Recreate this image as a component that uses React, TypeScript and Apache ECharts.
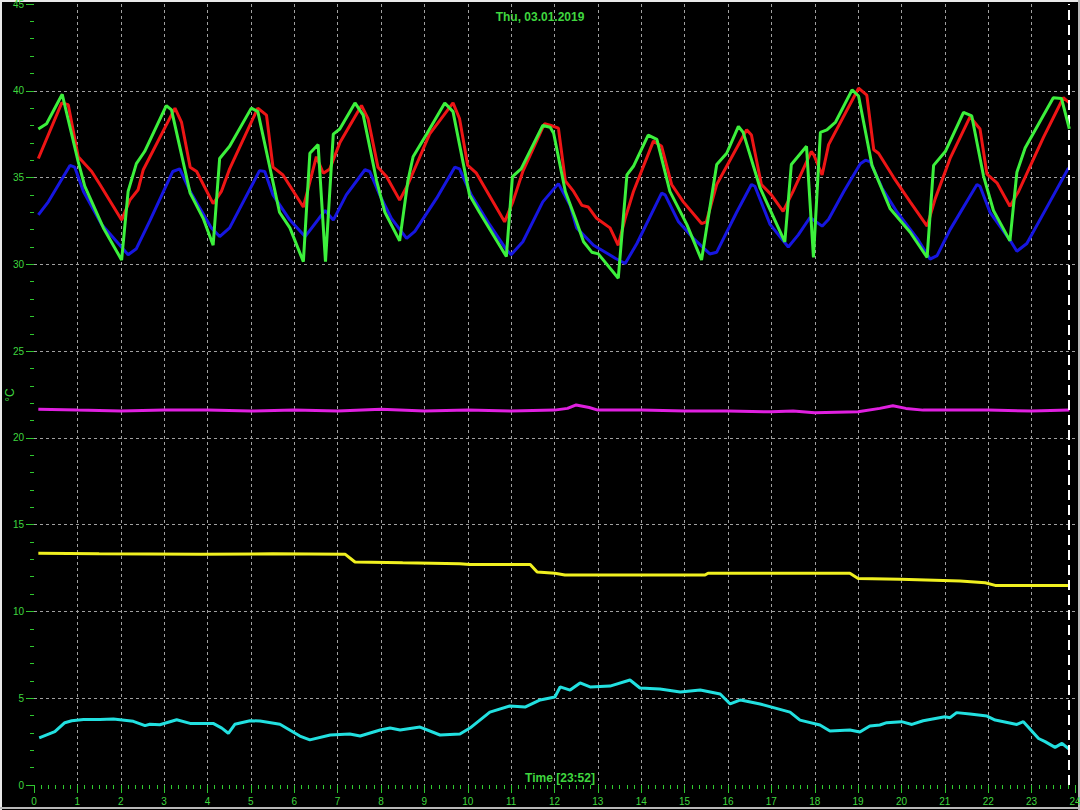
import React, { useEffect, useRef } from "react";
import * as echarts from "echarts";

// ---- Data (hour of day, °C) ----
const titleText = "Thu, 03.01.2019";
const timeLabel = "Time [23:52]";
const axisUnit = "°C";
const nowHour = 23.86;

const xMin = 0;
const xMax = 24;
const yMin = 0;
const yMax = 45;

const redTemp = [
  [0.1, 36.1], [0.64, 39.3], [0.79, 39.2], [1.02, 36.2], [1.33, 35.35], [1.52, 34.6], [2.02, 32.55], [2.21, 33.7],
  [2.4, 34.3], [2.52, 35.45], [3.25, 39.0], [3.4, 38.2], [3.6, 35.6], [3.75, 35.35], [4.13, 33.5], [4.32, 34.2],
  [4.51, 35.5], [5.16, 39.0], [5.36, 38.6], [5.51, 35.6], [5.74, 35.15], [6.21, 33.3], [6.51, 36.2], [6.67, 35.25],
  [6.82, 35.5], [7.05, 37.0], [7.55, 39.15], [7.7, 38.4], [7.93, 35.6], [8.13, 35.05], [8.43, 33.7], [8.62, 34.6],
  [9.12, 37.5], [9.66, 39.3], [9.81, 38.4], [10.0, 35.7], [10.2, 35.25], [10.85, 32.45], [11.04, 33.6], [11.27, 35.35],
  [11.77, 38.1], [11.92, 38.0], [12.09, 37.85], [12.25, 34.8], [12.44, 34.2], [12.63, 33.4], [12.78, 33.3], [12.97, 32.65],
  [13.28, 32.1], [13.47, 31.1], [13.63, 32.65], [13.82, 34.2], [14.28, 37.1], [14.47, 36.8], [14.7, 34.6], [14.97, 33.6],
  [15.39, 32.35], [15.5, 32.45], [15.74, 34.6], [16.43, 37.75], [16.54, 37.45], [16.77, 34.6], [17.0, 34.0], [17.27, 33.05],
  [17.5, 34.2], [17.92, 36.5], [17.98, 36.3], [18.17, 35.15], [18.32, 36.9], [19.01, 40.15], [19.2, 39.75], [19.36, 36.6],
  [19.47, 36.4], [19.82, 35.0], [20.2, 33.6], [20.59, 32.2], [20.78, 33.8], [21.12, 36.1], [21.58, 38.5], [21.81, 37.8],
  [21.97, 35.2], [22.2, 34.7], [22.5, 33.35], [22.7, 34.2], [23.27, 37.3], [23.73, 39.6], [23.87, 39.3],
];

const greenTemp = [
  [0.1, 37.8], [0.29, 38.1], [0.65, 39.8], [1.02, 35.9], [1.17, 34.5], [1.6, 32.1], [2.02, 30.25], [2.17, 34.2],
  [2.36, 35.8], [2.55, 36.5], [3.05, 39.15], [3.17, 38.9], [3.6, 34.1], [3.9, 32.65], [4.13, 31.1], [4.28, 36.1],
  [4.51, 36.8], [5.01, 39.0], [5.16, 38.8], [5.66, 33.0], [5.9, 32.1], [6.21, 30.15], [6.36, 36.4], [6.55, 36.9],
  [6.72, 30.15], [6.9, 37.5], [7.05, 37.8], [7.4, 39.3], [7.59, 38.6], [7.9, 34.8], [8.09, 33.0], [8.43, 31.35],
  [8.62, 34.8], [8.74, 36.2], [9.05, 37.5], [9.47, 39.3], [9.66, 38.8], [10.04, 34.0], [10.27, 33.0], [10.89, 30.45],
  [11.03, 35.05], [11.23, 35.5], [11.73, 38.0], [11.9, 37.9], [11.98, 37.55], [12.25, 34.2], [12.48, 32.65], [12.67, 31.3],
  [12.86, 30.7], [13.01, 30.6], [13.47, 29.2], [13.67, 35.15], [13.82, 35.65], [14.16, 37.45], [14.36, 37.2], [14.66, 34.2],
  [15.05, 32.3], [15.39, 30.25], [15.74, 35.75], [15.97, 36.4], [16.24, 37.95], [16.35, 37.6], [16.74, 34.4], [17.31, 31.3],
  [17.46, 35.75], [17.81, 36.8], [17.97, 30.4], [18.13, 37.6], [18.28, 37.75], [18.48, 38.2], [18.86, 40.05], [19.01, 39.7],
  [19.32, 35.7], [19.74, 33.2], [20.2, 31.85], [20.59, 30.4], [20.74, 35.7], [21.01, 36.5], [21.43, 38.75], [21.62, 38.55],
  [21.89, 35.1], [22.12, 33.1], [22.5, 31.35], [22.66, 35.3], [22.85, 36.7], [23.5, 39.6], [23.69, 39.55], [23.87, 37.8],
];

const blueTemp = [
  [0.1, 32.85], [0.33, 33.6], [0.83, 35.7], [0.94, 35.6], [1.14, 34.2], [1.56, 32.3], [1.98, 31.1], [2.17, 30.55],
  [2.36, 30.9], [2.67, 32.5], [3.2, 35.35], [3.36, 35.5], [3.6, 34.2], [4.09, 32.1], [4.28, 31.6], [4.51, 32.1],
  [5.2, 35.4], [5.32, 35.35], [5.51, 34.0], [5.9, 32.55], [6.25, 31.6], [6.71, 33.1], [6.9, 32.55], [7.2, 34.0],
  [7.63, 35.45], [7.74, 35.35], [7.97, 34.0], [8.24, 32.65], [8.59, 31.5], [8.78, 31.9], [9.28, 33.8], [9.7, 35.6],
  [9.81, 35.5], [10.08, 34.0], [10.5, 32.3], [10.89, 30.85], [11.0, 30.55], [11.27, 31.3], [11.73, 33.6], [12.09, 34.65],
  [12.36, 33.4], [12.51, 32.1], [12.9, 31.1], [13.24, 30.6], [13.4, 30.35], [13.63, 30.05], [13.9, 31.2], [14.47, 34.1],
  [14.55, 34.0], [14.86, 32.45], [15.2, 31.5], [15.58, 30.6], [15.74, 30.7], [16.2, 33.0], [16.54, 34.6], [16.62, 34.5],
  [16.97, 32.3], [17.39, 31.0], [17.62, 31.7], [17.89, 32.7], [18.17, 32.2], [18.32, 32.6], [18.67, 34.2], [19.05, 35.8],
  [19.17, 36.0], [19.28, 35.9], [19.55, 34.4], [19.9, 33.0], [20.36, 31.5], [20.66, 30.3], [20.82, 30.5], [21.12, 32.0],
  [21.74, 34.6], [21.81, 34.5], [22.04, 33.0], [22.5, 31.4], [22.66, 30.75], [22.89, 31.2], [23.42, 33.6], [23.85, 35.55],
];

const magentaTemp = [
  [0.1, 21.65], [1, 21.6], [2, 21.55], [3, 21.6], [4, 21.6], [5, 21.55], [6, 21.6], [7, 21.55],
  [8, 21.65], [9, 21.55], [10, 21.6], [11, 21.55], [12, 21.6], [12.3, 21.7], [12.5, 21.9], [12.8, 21.75],
  [13, 21.6], [14, 21.6], [15, 21.55], [16, 21.55], [17, 21.5], [17.5, 21.55], [18, 21.45], [19, 21.5],
  [19.5, 21.7], [19.8, 21.85], [20.1, 21.7], [20.5, 21.6], [21, 21.6], [22, 21.6], [23, 21.55], [23.87, 21.6],
];

const yellowTemp = [
  [0.1, 13.36], [1.5, 13.32], [3.83, 13.3], [5.5, 13.32], [7.17, 13.3], [7.4, 12.85], [8.5, 12.8], [9.82, 12.75],
  [10.05, 12.7], [11.44, 12.7], [11.6, 12.27], [12.01, 12.2], [12.24, 12.1], [14.0, 12.1], [15.47, 12.1], [15.54, 12.2],
  [17.0, 12.2], [18.81, 12.2], [19.0, 11.9], [19.97, 11.85], [21.35, 11.75], [21.93, 11.65], [22.16, 11.5], [23.87, 11.5],
];

const cyanTemp = [
  [0.12, 2.72], [0.48, 3.07], [0.71, 3.59], [0.87, 3.7], [1.14, 3.78], [1.52, 3.78], [1.83, 3.8], [2.29, 3.67],
  [2.56, 3.42], [2.67, 3.5], [2.9, 3.47], [3.29, 3.76], [3.6, 3.55], [4.13, 3.55], [4.33, 3.28], [4.48, 2.98],
  [4.63, 3.5], [4.98, 3.7], [5.21, 3.69], [5.67, 3.5], [6.13, 2.82], [6.36, 2.6], [6.83, 2.88], [7.28, 2.94],
  [7.52, 2.82], [7.98, 3.17], [8.21, 3.28], [8.44, 3.17], [8.9, 3.34], [9.36, 2.88], [9.82, 2.94], [10.05, 3.28],
  [10.51, 4.2], [10.97, 4.55], [11.32, 4.49], [11.67, 4.9], [12.01, 5.07], [12.13, 5.65], [12.36, 5.47], [12.59, 5.88],
  [12.82, 5.65], [13.28, 5.7], [13.74, 6.05], [13.97, 5.59], [14.43, 5.53], [14.9, 5.36], [15.36, 5.47], [15.82, 5.24],
  [16.05, 4.67], [16.29, 4.9], [16.74, 4.67], [17.43, 4.2], [17.66, 3.74], [18.12, 3.46], [18.35, 3.11], [18.81, 3.17],
  [19.04, 3.05], [19.27, 3.4], [19.5, 3.46], [19.66, 3.59], [20.0, 3.65], [20.24, 3.49], [20.5, 3.7], [21.0, 3.93],
  [21.12, 3.88], [21.27, 4.17], [21.58, 4.09], [21.97, 3.97], [22.16, 3.74], [22.66, 3.49], [22.81, 3.65], [23.16, 2.68],
  [23.31, 2.5], [23.54, 2.17], [23.7, 2.4], [23.87, 2.05],
];

const GREEN_TEXT = "#3fd63f";
const TICK_GREEN = "#2fc82f";
const FONT = "'Liberation Sans', Arial, sans-serif";

function lineSeries(name: string, data: number[][], color: string, z: number, extra: any = {}) {
  return {
    name,
    type: "line",
    data,
    showSymbol: false,
    symbol: "none",
    smooth: false,
    z,
    lineStyle: { color, width: 3 },
    itemStyle: { color },
    emphasis: { disabled: true },
    ...extra,
  };
}

export default function App() {
  const ref = useRef<HTMLDivElement>(null);

  useEffect(() => {
    if (!ref.current) return;
    const chart = echarts.init(ref.current, null, { renderer: "svg" });
    const option: any = {
      animation: false,
      backgroundColor: "#000000",
      grid: { left: 34, right: 5, top: 4, bottom: 25, containLabel: false, outerBoundsMode: "none" },
      xAxis: {
        type: "value",
        min: xMin,
        max: xMax,
        interval: 1,
        axisLine: { show: false },
        axisTick: { show: true, length: 8, lineStyle: { color: TICK_GREEN, width: 1 } },
        minorTick: { show: true, splitNumber: 6, length: 4, lineStyle: { color: TICK_GREEN, width: 1 } },
        axisLabel: { color: GREEN_TEXT, fontSize: 10, fontFamily: FONT, margin: 11 },
        splitLine: {
          show: true,
          showMinLine: false,
          showMaxLine: false,
          lineStyle: { color: "#a0a0a0", type: [3, 3], width: 1 },
        },
        minorSplitLine: { show: false },
      },
      yAxis: {
        type: "value",
        min: yMin,
        max: yMax,
        interval: 5,
        axisLine: { show: false },
        axisTick: { show: true, length: 8, lineStyle: { color: TICK_GREEN, width: 1 } },
        minorTick: { show: true, splitNumber: 5, length: 4, lineStyle: { color: TICK_GREEN, width: 1 } },
        axisLabel: { color: GREEN_TEXT, fontSize: 10, fontFamily: FONT, margin: 10 },
        splitLine: {
          show: true,
          showMinLine: false,
          showMaxLine: false,
          lineStyle: { color: "#a0a0a0", type: [3, 3], width: 1 },
        },
        minorSplitLine: { show: false },
      },
      series: [
        lineSeries("cyan", cyanTemp, "#22e0e0", 2),
        lineSeries("yellow", yellowTemp, "#f0f020", 2),
        lineSeries("magenta", magentaTemp, "#e020e0", 2),
        lineSeries("blue", blueTemp, "#1616e0", 3),
        lineSeries("red", redTemp, "#ee1515", 4),
        lineSeries("green", greenTemp, "#3cf03c", 5, {
          markLine: {
            silent: true,
            symbol: ["none", "none"],
            label: { show: false },
            lineStyle: { color: "#ffffff", type: [10, 5], width: 2 },
            data: [{ xAxis: nowHour }],
          },
        }),
      ],
      graphic: [
        {
          type: "text",
          x: 540,
          y: 17,
          style: {
            text: titleText,
            fill: GREEN_TEXT,
            font: `bold 12px ${FONT}`,
            align: "center",
            verticalAlign: "middle",
            textAlign: "center",
            textVerticalAlign: "middle",
          },
        },
        {
          type: "text",
          x: 560,
          y: 778,
          style: {
            text: timeLabel,
            fill: GREEN_TEXT,
            font: `bold 12px ${FONT}`,
            align: "center",
            verticalAlign: "middle",
            textAlign: "center",
            textVerticalAlign: "middle",
          },
        },
        {
          type: "text",
          x: 10,
          y: 395,
          rotation: Math.PI / 2,
          style: {
            text: axisUnit,
            fill: GREEN_TEXT,
            font: `12px ${FONT}`,
            align: "center",
            verticalAlign: "middle",
            textAlign: "center",
            textVerticalAlign: "middle",
          },
        },
        { type: "line", shape: { x1: 0, y1: 1, x2: 1080, y2: 1 }, style: { stroke: "#e8e8e8", lineWidth: 2 } },
        { type: "line", shape: { x1: 1, y1: 0, x2: 1, y2: 810 }, style: { stroke: "#e8e8e8", lineWidth: 2 } },
        { type: "line", shape: { x1: 0, y1: 808, x2: 1080, y2: 808 }, style: { stroke: "#b8b8b8", lineWidth: 2 } },
        { type: "line", shape: { x1: 1079, y1: 0, x2: 1079, y2: 810 }, style: { stroke: "#b8b8b8", lineWidth: 2 } },
      ],
    };
    chart.setOption(option);
    return () => {
      chart.dispose();
    };
  }, []);

  return (
    <div
      ref={ref}
      style={{ position: "fixed", left: 0, top: 0, width: 1080, height: 810, background: "#000" }}
    />
  );
}
